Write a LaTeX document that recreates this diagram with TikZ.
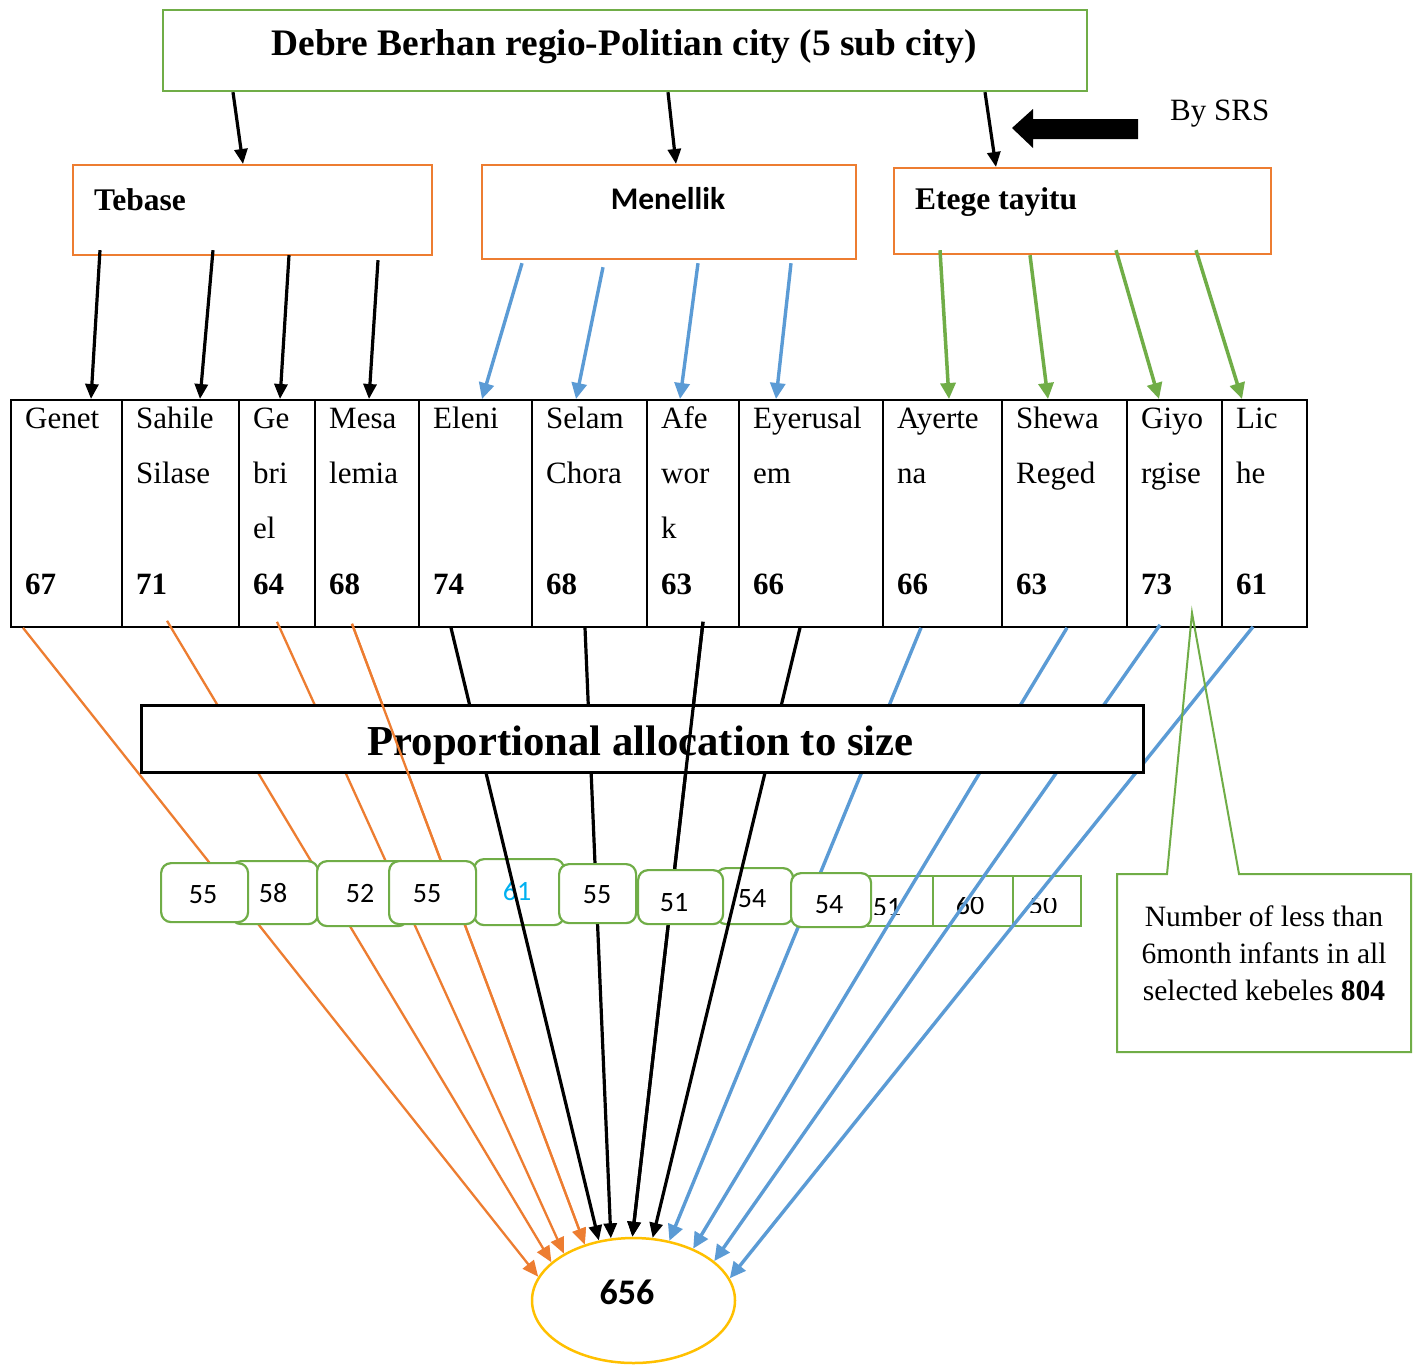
\documentclass[tikz,border=0pt]{standalone}
\usepackage{fontspec}
\setmainfont{Liberation Serif}
\newfontfamily\calfont{Carlito}
\usetikzlibrary{arrows.meta,calc,shapes.geometric}
\definecolor{cgreen}{HTML}{70AD47}
\definecolor{corange}{HTML}{ED7D31}
\definecolor{cblue}{HTML}{5B9BD5}
\definecolor{cyellow}{HTML}{FFC000}
\definecolor{ccyan}{HTML}{00B0F0}
\begin{document}
\begin{tikzpicture}[x=1pt,y=-1pt,
  dbox/.style={draw, rectangle, anchor=north west, inner sep=0pt, line width=2.2pt},
  tcell/.style={draw, rectangle, anchor=north west, inner sep=0pt, line width=1.8pt, minimum height=227pt},
  ctxt/.style={anchor=base west, inner sep=0pt, font=\fontsize{31}{36}\selectfont},
  cnum/.style={anchor=base west, inner sep=0pt, font=\fontsize{31}{36}\selectfont\bfseries},
  sbx/.style={draw=cgreen, fill=white, rounded corners=10pt, line width=2.2pt, anchor=north west, inner sep=0pt},
  rbx/.style={draw=cgreen, fill=white, line width=2.2pt, anchor=north west, inner sep=0pt},
  snum/.style={anchor=base, inner sep=0pt, font=\calfont\fontsize{28}{30}\selectfont},
  blk/.style={line width=3.2pt, -{Triangle[length=15pt,width=13pt]}},
  bluea/.style={draw=cblue, line width=3.4pt, -{Triangle[length=16pt,width=15pt]}},
  greena/.style={draw=cgreen, line width=3.5pt, -{Triangle[length=16pt,width=15pt]}},
  orla/.style={draw=corange, line width=2.3pt, -{Triangle[length=16pt,width=14pt]}},
]
\useasboundingbox[fill=white] (0,0) rectangle (1420,1365);

% ---------- top boxes ----------
\node[dbox, draw=cgreen, minimum width=924pt, minimum height=81pt] (title) at (162,9) {};
\node[anchor=base, inner sep=0pt, font=\fontsize{37.4}{40}\selectfont\bfseries] (titletxt) at (624,55) {Debre Berhan regio-Politian city (5 sub city)};

\node[dbox, draw=corange, minimum width=359pt, minimum height=90pt] (teb) at (72,164) {};
\node[anchor=base west, inner sep=0pt, font=\fontsize{31.5}{36}\selectfont\bfseries] (tebtxt) at (94,210) {Tebase};

\node[dbox, draw=corange, minimum width=374pt, minimum height=94pt] (men) at (481,164) {};
\node[anchor=base, inner sep=0pt, font=\calfont\fontsize{31.5}{36}\selectfont\bfseries] (mentxt) at (668,209) {Menellik};

\node[dbox, draw=corange, minimum width=377pt, minimum height=86pt] (ete) at (893,167) {};
\node[anchor=base west, inner sep=0pt, font=\fontsize{31.5}{36}\selectfont\bfseries] (etetxt) at (915,209) {Etege tayitu};

\node[anchor=base west, inner sep=0pt, font=\fontsize{31}{36}\selectfont] (srs) at (1170,120) {By SRS};
\fill (1012,128) -- (1033,109) -- (1033,119) -- (1138,119) -- (1138,139) -- (1033,139) -- (1033,148) -- cycle;

\draw[blk] (233,0 |- title.south) -- (243,0 |- teb.north);
\draw[blk] (668,0 |- title.south) -- (676,0 |- men.north);
\draw[blk] (985,0 |- title.south) -- (996,0 |- ete.north);

% ---------- table ----------
\foreach \i/\x/\w in {1/10/111,2/121/117,3/238/76,4/314/104,5/418/113,6/531/115,7/646/92,8/738/144,9/882/119,10/1001/125,11/1126/95,12/1221/85}
  \node[tcell, minimum width=\w pt] (c\i) at (\x,399) {};

\foreach \i/\x/\a/\b/\c/\n in {1/10/Genet///67, 2/121/Sahile/Silase//71, 3/238/Ge/bri/el/64, 4/314/Mesa/lemia//68, 5/418/Eleni///74, 6/531/Selam/Chora//68, 7/646/Afe/wor/k/63, 8/738/Eyerusal/em//66, 9/882/Ayerte/na//66, 10/1001/Shewa/Reged//63, 11/1126/Giyo/rgise//73, 12/1221/Lic/he//61}{
  \node[ctxt] (l\i-a) at ({\x+15},428) {\a};
  \node[ctxt] (l\i-b) at ({\x+15},483) {\b};
  \node[ctxt] (l\i-c) at ({\x+15},538) {\c};
  \node[cnum] (l\i-n) at ({\x+15},594) {\n};
}

% sub-city to kebele arrows
\draw[blk] ($(teb.south west)+(28,-6)$) -- (91,0 |- c1.north);
\draw[blk] ($(teb.south west)+(141,-6)$) -- (200,0 |- c2.north);
\draw[blk] ($(teb.south west)+(217,-1)$) -- (280,0 |- c3.north);
\draw[blk] ($(teb.south west)+(306,4)$) -- (369,0 |- c4.north);

\draw[bluea] ($(men.south west)+(41,3)$) -- (482,0 |- c5.north);
\draw[bluea] ($(men.south west)+(122,7)$) -- (576,0 |- c6.north);
\draw[bluea] ($(men.south west)+(217,3)$) -- (680,0 |- c7.north);
\draw[bluea] ($(men.south west)+(310,3)$) -- (776,0 |- c8.north);

\draw[greena] ($(ete.south west)+(47,-5)$) -- (949,0 |- c9.north);
\draw[greena] ($(ete.south west)+(137,0)$) -- (1048,0 |- c10.north);
\draw[greena] ($(ete.south west)+(223,-5)$) -- (1159,0 |- c11.north);
\draw[greena] ($(ete.south west)+(303,-5)$) -- (1242,0 |- c12.north);

% ---------- result ellipse ----------
\node[ellipse, draw=cyellow, line width=2.5pt, minimum width=203pt, minimum height=125pt, inner sep=0pt] (res) at (633.5,1300.5) {};
\node[anchor=base, inner sep=0pt, font=\calfont\fontsize{36}{40}\selectfont\bfseries] (restxt) at (627,1304) {656};

% ---------- small boxes under the lines ----------
\node[sbx, minimum width=90pt, minimum height=66pt] (bE) at (473,858) {};
\node[snum, text=ccyan] (tE) at (517,900) {61};
\node[sbx, minimum width=77pt, minimum height=56pt] (bH) at (715,867) {};
\node[snum] (tH) at (752,907) {54};
\node[rbx, minimum width=65pt, minimum height=50pt] (bJ) at (867,875) {};
\node[rbx, minimum width=80pt, minimum height=50pt] (bK) at (932,875) {};
\node[rbx, minimum width=68pt, minimum height=50pt] (bL) at (1012,875) {};
\begin{scope}
  \clip (867,880) rectangle (932,914);
  \node[snum] (tJ) at (887,916) {51};
\end{scope}
\begin{scope}
  \clip (932,897) rectangle (1012,920);
  \node[snum] (tK) at (970,914) {60};
\end{scope}
\begin{scope}
  \clip (1012,898) rectangle (1080,912);
  \node[snum] (tL) at (1043,914) {50};
\end{scope}

% ---------- lines to the result ----------
\draw[orla] (23,0 |- c1.south) -- (res.166);
\draw[orla] ($(167,0 |- c2.south)+(0,-7)$) -- (res.155);
\draw[orla] ($(277,0 |- c3.south)+(0,-6)$) -- (res.146);
\draw[orla] ($(352,0 |- c4.south)+(0,-4)$) -- (res.131);

\draw[blk] (451,0 |- c5.south) -- (res.120);
\draw[blk] (585,0 |- c6.south) -- (res.110);
\draw[blk] ($(703,0 |- c7.south)+(0,-6)$) -- (res.91);
\draw[blk] (800,0 |- c8.south) -- (res.73);

\draw[bluea] (921,0 |- c9.south) -- (res.59);
\draw[bluea] (1067,0 |- c10.south) -- (res.41);
\draw[bluea] ($(1160,0 |- c11.south)+(0,-3)$) -- (res.26);
\draw[bluea] ($(1253,0 |- c12.south)+(0,-1)$) -- (res.13);

% ---------- proportional allocation box ----------
\node[draw, fill=white, line width=2.5pt, anchor=north west, inner sep=0pt, minimum width=1002pt, minimum height=67pt] (prop) at (140,704) {};
\node[anchor=base, inner sep=0pt, font=\fontsize{42.7}{46}\selectfont\bfseries] (proptxt) at (640.5,755) {Proportional allocation to size};

\draw[orla] ($(352,0 |- c4.south)+(0,-4)$) -- (res.131);
\draw[blk] ($(703,0 |- c7.south)+(0,-6)$) -- (res.91);

% ---------- small boxes above the lines ----------
\node[sbx, minimum width=87pt, minimum height=63pt] (bB) at (230,860) {};
\node[snum] (tB) at (273,902) {58};
\node[sbx, minimum width=87pt, minimum height=59pt] (bA) at (160,862) {};
\node[snum] (tA) at (203,903) {55};
\node[sbx, minimum width=91pt, minimum height=65pt] (bC) at (316,860) {};
\node[snum] (tC) at (360,902) {52};
\node[sbx, minimum width=87pt, minimum height=63pt] (bD) at (388,860) {};
\node[snum] (tD) at (427,902) {55};
\node[sbx, minimum width=77pt, minimum height=59pt] (bF) at (558,863) {};
\node[snum] (tF) at (597,903) {55};
\node[sbx, minimum width=85pt, minimum height=54pt] (bG) at (637,869) {};
\node[snum] (tG) at (674,911) {51};
\node[sbx, minimum width=80pt, minimum height=54pt] (bI) at (790,872) {};
\node[snum] (tI) at (829,913) {54};

% ---------- callout ----------
\draw[cgreen, line width=2pt] (1117,874) -- (1167,874) -- (1192,613) -- (1239,874) -- (1411,874) -- (1411,1052) -- (1117,1052) -- cycle;
\node[align=center, inner sep=0pt, font=\fontsize{29.5}{37}\selectfont] (note) at (1264,953) {Number of less than\\6month infants in all\\selected kebeles \textbf{804}};
\end{tikzpicture}
\end{document}
